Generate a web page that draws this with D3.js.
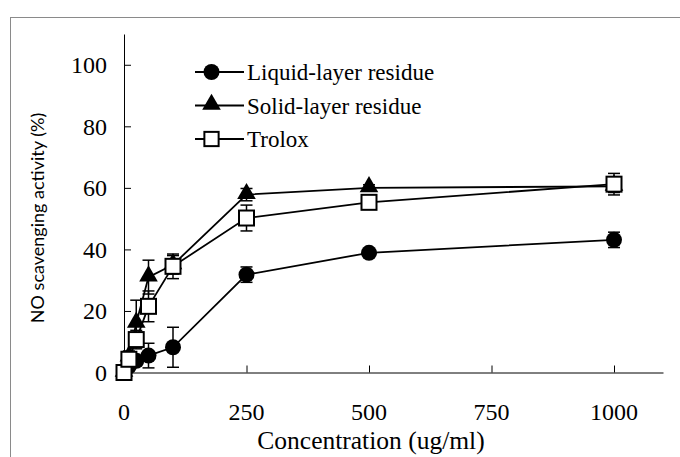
<!DOCTYPE html>
<html>
<head>
<meta charset="utf-8">
<script src="https://cdn.jsdelivr.net/npm/d3@7"></script>
<style>
  body { margin: 0; background: #fff; }
  svg text { fill: #000; }
</style>
</head>
<body>
<svg id="chart"></svg>
<script>
var w = 680;
var h = 457;

// data
var conc = [0, 10, 25, 50, 100, 250, 500, 1000];
var liquid = [0, 2, 3.8, 5.5, 8.2, 31.8, 38.9, 43.1];
var liquidErr = [0, 1, 1.5, 4, 6.5, 2.5, 1, 2.5];
var solid = [0, 5, 16, 31, 35, 57.8, 60, 60.5];
var solidErr = [0, 2, 7.5, 5.5, 3, 2, 1, 2];
var trolox = [0, 4.3, 10.7, 21.5, 34.5, 50.2, 55.3, 61.2];
var troloxErr = [0, 1, 3, 5, 4, 4.2, 1.5, 3.5];
var xTicks = [0, 250, 500, 750, 1000];
var yTicks = [0, 20, 40, 60, 80, 100];

var series = [
  {name: "Liquid-layer residue", values: liquid, err: liquidErr, shape: "circle"},
  {name: "Solid-layer residue", values: solid, err: solidErr, shape: "triangle"},
  {name: "Trolox", values: trolox, err: troloxErr, shape: "square"}
];

var svg = d3.select("#chart")
  .attr("width", w)
  .attr("height", h)
  .style("font-family", "'Liberation Serif', 'Times New Roman', serif");

// outer frame (runs off the right and bottom)
svg.append("rect")
  .attr("x", 10.5)
  .attr("y", 17.5)
  .attr("width", 700)
  .attr("height", 460)
  .attr("fill", "none")
  .attr("stroke", "#8a8a8a")
  .attr("stroke-width", 1);

var x = d3.scaleLinear().domain([0, 1100]).range([124, 663]);
var y = d3.scaleLinear().domain([0, 110]).range([372.5, 34]);

// axes: ticks point inward, labels drawn separately
svg.append("g")
  .attr("transform", "translate(0," + y(0) + ")")
  .call(d3.axisTop(x).tickValues(xTicks).tickSize(7).tickFormat("").tickSizeOuter(0))
  .call(function(g) { g.selectAll("line, path").attr("stroke", "#000"); });

svg.append("g")
  .attr("transform", "translate(" + x(0) + ",0)")
  .call(d3.axisRight(y).tickValues(yTicks).tickSize(7).tickFormat("").tickSizeOuter(0))
  .call(function(g) { g.selectAll("line, path").attr("stroke", "#000"); });

svg.selectAll(".xlab")
  .data(xTicks)
  .enter().append("text")
  .attr("class", "xlab")
  .attr("x", function(d) { return x(d); })
  .attr("y", 420)
  .attr("text-anchor", "middle")
  .style("font-size", "24px")
  .text(function(d) { return d; });

svg.selectAll(".ylab")
  .data(yTicks)
  .enter().append("text")
  .attr("class", "ylab")
  .attr("x", 107)
  .attr("y", function(d) { return y(d); })
  .attr("dy", "0.35em")
  .attr("text-anchor", "end")
  .style("font-size", "24px")
  .text(function(d) { return d; });

svg.append("text")
  .attr("x", 371)
  .attr("y", 449)
  .attr("text-anchor", "middle")
  .style("font-size", "25.5px")
  .text("Concentration (ug/ml)");

svg.append("text")
  .attr("transform", "translate(44,218) rotate(-90)")
  .attr("text-anchor", "middle")
  .style("font-family", "Lato, 'Open Sans', sans-serif")
  .style("font-size", "18px")
  .text("NO scavenging activity (%)");

function drawMarker(g, shape, cx, cy, scale) {
  scale = scale || 1;
  if (shape == "circle") {
    g.append("circle").attr("cx", cx).attr("cy", cy).attr("r", 8 * scale).attr("fill", "#000");
  } else if (shape == "triangle") {
    g.append("path")
      .attr("d", d3.symbol().type(d3.symbolTriangle).size(150 * scale * scale)())
      .attr("transform", "translate(" + cx + "," + (cy - 1) + ")")
      .attr("fill", "#000");
  } else {
    var s = 15 * scale;
    g.append("rect")
      .attr("x", cx - s / 2).attr("y", cy - s / 2)
      .attr("width", s).attr("height", s)
      .attr("fill", "#fff").attr("stroke", "#000").attr("stroke-width", 2);
  }
}

var line = d3.line()
  .x(function(d) { return x(d[0]); })
  .y(function(d) { return y(d[1]); });

series.forEach(function(s) {
  var g = svg.append("g");
  var pts = conc.map(function(c, i) { return [c, s.values[i], s.err[i]]; });

  // error bars
  pts.forEach(function(p) {
    if (!p[2]) return;
    var cx = x(p[0]);
    var y1 = y(p[1] + p[2]), y2 = y(p[1] - p[2]);
    g.append("line").attr("x1", cx).attr("x2", cx).attr("y1", y1).attr("y2", y2)
      .attr("stroke", "#000").attr("stroke-width", 1.5);
    [y1, y2].forEach(function(yy) {
      g.append("line").attr("x1", cx - 6).attr("x2", cx + 6).attr("y1", yy).attr("y2", yy)
        .attr("stroke", "#000").attr("stroke-width", 1.5);
    });
  });

  g.append("path")
    .datum(pts)
    .attr("d", line)
    .attr("fill", "none")
    .attr("stroke", "#000")
    .attr("stroke-width", 1.8);

  pts.forEach(function(p) {
    drawMarker(g, s.shape, x(p[0]), y(p[1]));
  });
});

// legend
var legend = svg.append("g");
series.forEach(function(s, i) {
  var ly = 72 + i * 33.5;
  legend.append("line")
    .attr("x1", 195).attr("x2", 244).attr("y1", ly).attr("y2", ly)
    .attr("stroke", "#000").attr("stroke-width", 1.8);
  drawMarker(legend, s.shape, 211.5, ly, s.shape == "square" ? 0.95 : 1);
  legend.append("text")
    .attr("x", 247)
    .attr("y", ly)
    .attr("dy", "0.35em")
    .style("font-size", "23px")
    .text(s.name);
});
</script>
</body>
</html>
